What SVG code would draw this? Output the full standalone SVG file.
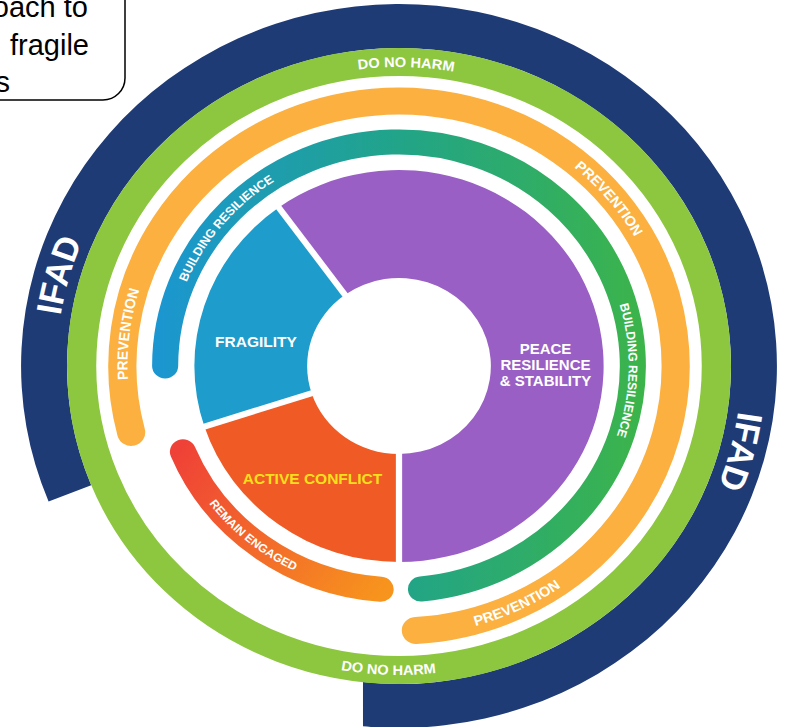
<svg xmlns="http://www.w3.org/2000/svg" width="785" height="727" viewBox="0 0 785 727">
<style>
.t{font-family:"Liberation Sans",Arial,sans-serif;font-weight:bold;fill:#fff}
.box{font-family:"Liberation Sans",Arial,sans-serif;font-size:29px;fill:#000}
.ring{fill:none}
.sep{stroke:#fff;stroke-width:6}
</style>
<defs>
<linearGradient id="gBR" gradientUnits="userSpaceOnUse" x1="-236" y1="0" x2="236" y2="0">
<stop offset="0" stop-color="#1b96d2"/><stop offset="0.5" stop-color="#21a488"/><stop offset="1" stop-color="#3cb44a"/>
</linearGradient>
<linearGradient id="gRE" gradientUnits="userSpaceOnUse" x1="-210" y1="80" x2="-15" y2="225">
<stop offset="0" stop-color="#ef4137"/><stop offset="1" stop-color="#f7941d"/>
</linearGradient>
<path id="pDnhT" d="M -186.95 -233.35 A 299 299 0 0 1 197.37 -224.59"/>
<path id="pDnhB" d="M -206.36 229.99 A 309 309 0 0 0 190.67 243.16"/>
<path id="pPrTR" d="M 46.04 -255.89 A 260 260 0 0 1 260 0.91"/>
<path id="pPrL" d="M -218.05 141.61 A 260 260 0 0 1 -177.32 -190.15"/>
<path id="pPrBR" d="M -68.06 261.28 A 270 270 0 0 0 245.49 112.40"/>
<path id="pBrUL" d="M -216.49 39.15 A 220 220 0 0 1 -0.96 -220"/>
<path id="pBrR" d="M 144.82 -165.62 A 220 220 0 0 1 137.98 171.35"/>
<path id="pRe" d="M -227.99 1.99 A 228 228 0 0 0 41.55 224.18"/>
<path id="pIfL" d="M -298.70 135.50 A 328 328 0 0 1 -185.31 -270.64"/>
<path id="pIfR" d="M 296.54 -140.17 A 328 328 0 0 1 189.54 267.69"/>
</defs>
<rect width="785" height="727" fill="#fff"/>

<g id="textbox">
<rect x="-60" y="-60" width="185" height="160" rx="22" fill="#fff" stroke="#000" stroke-width="1.5"/>
<text class="box" x="88" y="17" text-anchor="end">oach to</text>
<text class="box" x="10" y="55">fragile</text>
<text class="box" x="-4.5" y="92">s</text>
</g>

<g transform="translate(399,366) scale(1.044,1)">
<g id="ifad">
<path d="M -335.64 135.61 A 362 362 0 1 1 -34.5 360.35 L -34.5 316.12 A 318 318 0 1 0 -294.84 119.13 Z" fill="#1e3b76"/>
<text class="t" font-size="34"><textPath href="#pIfL" startOffset="50%" text-anchor="middle">IFAD</textPath></text>
<text class="t" font-size="34"><textPath href="#pIfR" startOffset="50%" text-anchor="middle">IFAD</textPath></text>
</g>
<g id="do-no-harm">
<circle class="ring" r="304" stroke="#8dc63f" stroke-width="28"/>
<text class="t" font-size="14"><textPath href="#pDnhT" startOffset="50%" text-anchor="middle">DO NO HARM</textPath></text>
<text class="t" font-size="14"><textPath href="#pDnhB" startOffset="50%" text-anchor="middle">DO NO HARM</textPath></text>
</g>
<g id="prevention">
<path class="ring" d="M -256.56 66.35 A 265 265 0 1 1 16.18 264.50" stroke="#fbb040" stroke-width="27" stroke-linecap="round"/>
<text class="t" font-size="14"><textPath href="#pPrL" startOffset="50%" text-anchor="middle">PREVENTION</textPath></text>
<text class="t" font-size="14"><textPath href="#pPrTR" startOffset="50%" text-anchor="middle">PREVENTION</textPath></text>
<text class="t" font-size="14"><textPath href="#pPrBR" startOffset="50%" text-anchor="middle">PREVENTION</textPath></text>
</g>
<g id="building-resilience">
<path class="ring" d="M -224 0 A 224 224 0 1 1 21.08 223.01" stroke="url(#gBR)" stroke-width="25" stroke-linecap="round"/>
<text class="t" font-size="12"><textPath href="#pBrUL" startOffset="50%" text-anchor="middle">BUILDING RESILIENCE</textPath></text>
<text class="t" font-size="12"><textPath href="#pBrR" startOffset="50%" text-anchor="middle">BUILDING RESILIENCE</textPath></text>
</g>
<g id="remain-engaged">
<path class="ring" d="M -206.95 85.72 A 224 224 0 0 0 -17.58 223.31" stroke="url(#gRE)" stroke-width="25" stroke-linecap="round"/>
<text class="t" font-size="11.5"><textPath href="#pRe" startOffset="50%" text-anchor="middle">REMAIN ENGAGED</textPath></text>
</g>
<g id="peace">
<path d="M -115.21 -158.57 A 196 196 0 1 1 0 196 L 0 88 A 88 88 0 1 0 -51.73 -71.19 Z" fill="#9a5fc4"/>
</g>
<g id="fragility">
<path d="M -186.41 60.57 A 196 196 0 0 1 -115.21 -158.57 L -51.73 -71.19 A 88 88 0 0 0 -83.69 27.19 Z" fill="#1e9ccb"/>
</g>
<g id="active-conflict">
<path d="M 0 196 A 196 196 0 0 1 -186.41 60.57 L -83.69 27.19 A 88 88 0 0 0 0 88 Z" fill="#f05a24"/>
</g>
<g id="separators">
<line class="sep" x1="-50" y1="-68.8" x2="-117.6" y2="-161.8"/>
<line class="sep" x1="-80.9" y1="26.3" x2="-190.2" y2="61.8"/>
<line class="sep" x1="0" y1="85" x2="0" y2="200"/>
</g>
</g>

<text class="t" font-size="15.5" x="256" y="347" text-anchor="middle">FRAGILITY</text>
<text class="t" font-size="15" text-anchor="middle"><tspan x="545.5" y="353.5">PEACE</tspan><tspan x="545.5" y="370">RESILIENCE</tspan><tspan x="545.5" y="386">&amp; STABILITY</tspan></text>
<text class="t" font-size="15.5" x="312.5" y="484" text-anchor="middle" style="fill:#f7e01b">ACTIVE CONFLICT</text>
</svg>
